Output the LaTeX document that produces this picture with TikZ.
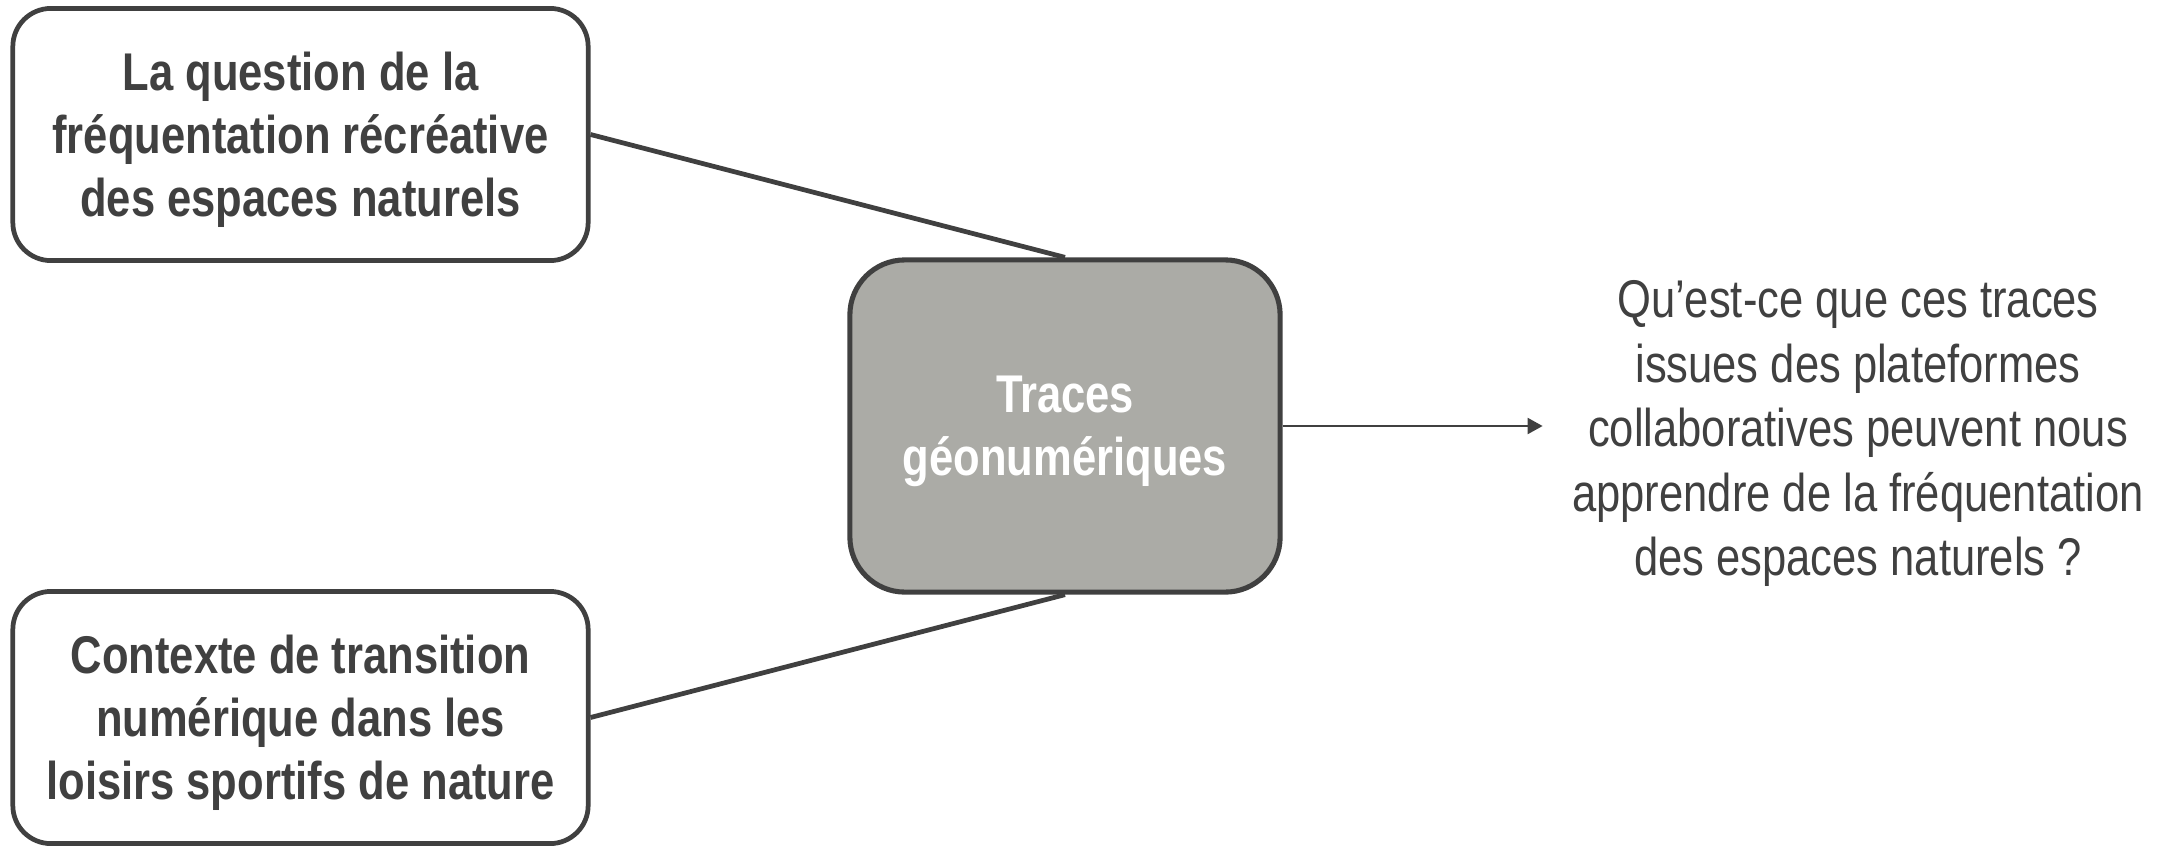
\documentclass[tikz,border=0pt]{standalone}
\usepackage{fontspec}
\setmainfont[FakeStretch=0.82]{Liberation Sans}
\usetikzlibrary{arrows.meta}
\definecolor{ink}{HTML}{404040}
\definecolor{boxgray}{HTML}{ABABA6}
\begin{document}
\begin{tikzpicture}[x=0.01cm,y=-0.01cm,
  sidebox/.style={draw=ink,line width=1.35pt,fill=white,rounded corners=0.38cm,
    minimum width=5.75cm,minimum height=2.52cm,inner sep=0pt,align=center,
    text depth=-0.03cm,
    text=ink,font=\fontsize{15.1}{17.9}\selectfont\bfseries},
  centerbox/.style={draw=ink,line width=1.45pt,fill=boxgray,rounded corners=0.55cm,
    minimum width=4.3cm,minimum height=3.32cm,inner sep=0pt,align=center,
    text depth=-0.03cm,
    text=white,font=\fontsize{15.1}{17.9}\selectfont\bfseries},
  question/.style={inner sep=0pt,align=center,text=ink,text depth=-0.03cm,
    font=\fontsize{15.1}{18.35}\selectfont},
  link/.style={draw=ink,line width=1.35pt},
  arrowlink/.style={draw=ink,line width=0.6pt,-{Triangle[length=0.15cm,width=0.16cm]},shorten >=0.29cm}]
\useasboundingbox (0,0) rectangle (2169,845);
\node[sidebox] (tl) at (300.5,134.5) {La question de la\\fréquentation récréative\\des espaces naturels};
\node[sidebox] (bl) at (300.5,717.5) {Contexte de transition\\numérique dans les\\loisirs sportifs de nature};
\node[centerbox] (c) at (1065,426) {Traces\\géonumériques};
\node[question] (q) at (1858,428) {Qu’est-ce que ces traces\\issues des plateformes\\collaboratives peuvent nous\\apprendre de la fréquentation\\des espaces naturels ?};
\draw[link] (tl.east) -- (c.north);
\draw[link] (bl.east) -- (c.south);
\draw[arrowlink] (c.east) -- (c.east -| q.west);
\end{tikzpicture}
\end{document}
